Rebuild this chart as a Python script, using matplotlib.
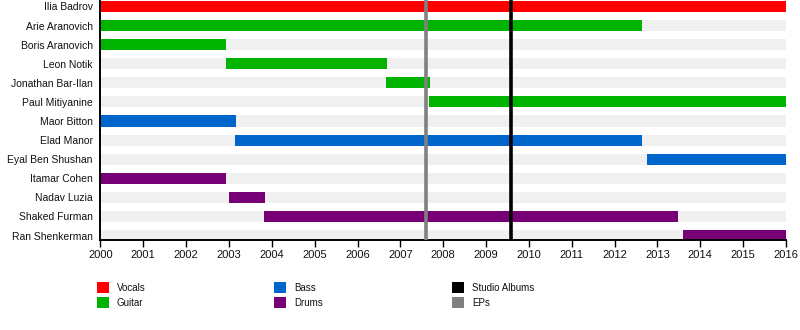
import matplotlib
matplotlib.use("Agg")
import matplotlib.pyplot as plt
from matplotlib.patches import Patch

plt.rcParams['font.family'] = ['Liberation Sans', 'DejaVu Sans']

members = ["Ilia Badrov", "Arie Aranovich", "Boris Aranovich", "Leon Notik",
           "Jonathan Bar-Ilan", "Paul Mitiyanine", "Maor Bitton", "Elad Manor",
           "Eyal Ben Shushan", "Itamar Cohen", "Nadav Luzia", "Shaked Furman",
           "Ran Shenkerman"]
starts = [2000.0, 2000.0, 2000.0, 2002.92, 2006.67, 2007.67, 2000.0, 2003.15,
          2012.76, 2000.0, 2002.99, 2003.82, 2013.60]
ends = [2016.0, 2012.64, 2002.94, 2006.69, 2007.70, 2016.0, 2003.17, 2012.64,
        2016.0, 2002.94, 2003.85, 2013.48, 2016.0]
roles = ["Vocals", "Guitar", "Guitar", "Guitar", "Guitar", "Guitar", "Bass", "Bass",
         "Bass", "Drums", "Drums", "Drums", "Drums"]
role_colors = {"Vocals": "#ff0000", "Guitar": "#00b300", "Bass": "#0066cc",
               "Drums": "#770077"}
studio_albums = [2009.59]
eps = [2007.59]
year_ticks = list(range(2000, 2017))

fig = plt.figure(figsize=(8, 3.3), dpi=100)
ax = fig.add_axes([0.1255, 0.2727, 0.857, 0.7273])

n = len(members)
for i in range(n):
    ax.barh(i, 2016 - 2000, left=2000, height=0.58, color="#f0f0f0", zorder=1)
    ax.barh(i, ends[i] - starts[i], left=starts[i], height=0.58,
            color=role_colors[roles[i]], zorder=2)

for x in eps:
    ax.axvline(x, color="#808080", lw=2.6, zorder=3)
for x in studio_albums:
    ax.axvline(x, color="black", lw=2.6, zorder=3)

ax.set_xlim(2000, 2016)
ax.set_ylim(12.236, -0.34)
ax.set_yticks(range(n))
ax.set_yticklabels(members, fontsize=7.5, color="#111111")
ax.tick_params(axis='y', length=0, pad=5.5)
ax.set_xticks(year_ticks)
ax.set_xticklabels([str(y) for y in year_ticks], fontsize=8, color="#111111")
ax.tick_params(axis='x', length=5, width=1, direction='out', pad=2.5)
for s in ["top", "right"]:
    ax.spines[s].set_visible(False)
ax.spines["left"].set_linewidth(1.4)
ax.spines["bottom"].set_linewidth(1.4)

legend_cols = [["Vocals", "Guitar"], ["Bass", "Drums"], ["Studio Albums", "EPs"]]
legend_colors = dict(role_colors)
legend_colors["Studio Albums"] = "black"
legend_colors["EPs"] = "#808080"
col_x = [0.121, 0.3425, 0.565]
for cx, col in zip(col_x, legend_cols):
    handles = [Patch(facecolor=legend_colors[k], edgecolor="none") for k in col]
    fig.legend(handles, col, loc="upper left", bbox_to_anchor=(cx, 0.1455),
               frameon=False, fontsize=7, handlelength=1.24, handleheight=1.34,
               handletextpad=0.8, labelspacing=0.42, borderpad=0, borderaxespad=0,
               labelcolor="#111111")

fig.savefig("out.png", dpi=100)
